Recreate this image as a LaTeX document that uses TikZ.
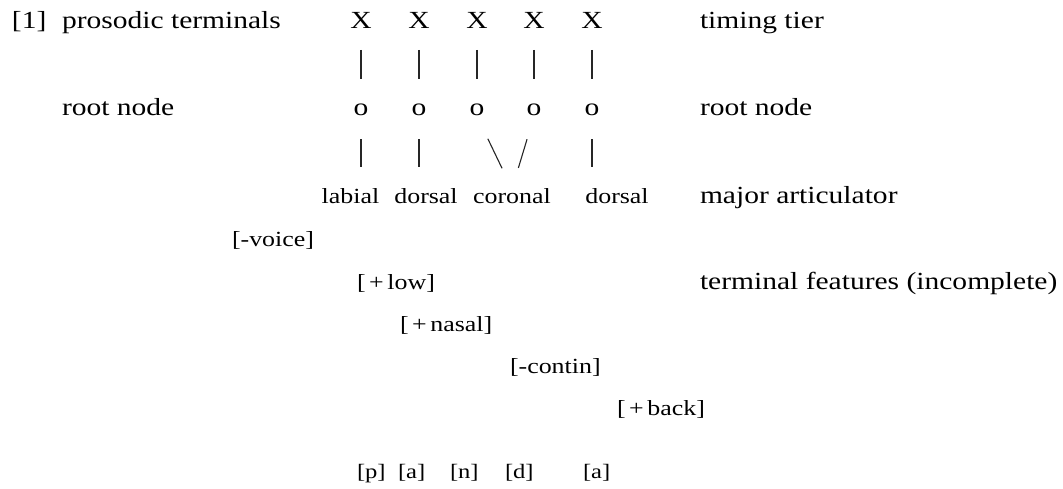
\documentclass[tikz,border=0pt]{standalone}
\usepackage{fontspec}
\setmainfont{Liberation Serif}[FakeStretch=1.2]
\begin{document}
\begin{tikzpicture}[x=1pt,y=1pt,
  txt/.style={inner sep=0pt, outer sep=0pt, anchor=base, font=\fontsize{24.6}{28}\selectfont},
  lbl/.style={txt, anchor=base west},
  sm/.style={inner sep=0pt, outer sep=0pt, anchor=base, font=\fontsize{21.6}{26}\selectfont},
  feat/.style={sm, anchor=base west},
  seg/.style={inner sep=0pt, outer sep=0pt, anchor=base west, font=\fontsize{20.5}{24}\selectfont},
  bar/.style={line width=1.1pt, black!85}]
\useasboundingbox (0,0) rectangle (1063,489);
% left and right labels
\node[lbl] (num) at (12,460) {[1]};
\node[lbl] (pros) at (62,460) {prosodic terminals};
\node[lbl] (rootL) at (62,373) {root node};
\node[lbl] (timing) at (700,460) {timing tier};
\node[lbl] (rootR) at (700,373) {root node};
\node[lbl] (major) at (700,285) {major articulator};
\node[lbl] (term) at (700,199) {terminal features (incomplete)};
% timing tier and root nodes
\foreach \i/\x in {1/361,2/419,3/477,4/534,5/592}{
  \node[txt] (X\i) at (\x,460) {X};
  \node[txt] (o\i) at (\x,373) {o};
  \draw[bar, shorten <=21pt, shorten >=25.5pt] (X\i.south) -- (o\i.north);
}
% articulators
\node[sm] (lab) at (350.5,285) {labial};
\node[sm] (dorA) at (426,285) {dorsal};
\node[sm] (cor) at (512,285) {coronal};
\node[sm] (dorB) at (617,285) {dorsal};
\draw[bar, shorten <=23pt, shorten >=22pt] (o1.south) -- (o1.south |- lab.north);
\draw[bar, shorten <=23pt, shorten >=22pt] (o2.south) -- (o2.south |- dorA.north);
\draw[bar, shorten <=23pt, shorten >=22pt] (o5.south) -- (o5.south |- dorB.north);
\draw[bar, shorten <=25pt, shorten >=23pt] (o3.south) -- (cor.north);
\draw[bar, shorten <=24pt, shorten >=22pt] (o4.south) -- (cor.north);
% features
\node[feat] (voice) at (232,242) {[-voice]};
\node[feat] (low) at (357,199) {[\,+\,low]};
\node[feat] (nasal) at (400,157) {[\,+\,nasal]};
\node[feat] (contin) at (510,115) {[-contin]};
\node[feat] (back) at (617,73) {[\,+\,back]};
% segments
\node[seg] (sp) at (357,10) {[p]};
\node[seg] (sa) at (398,10) {[a]};
\node[seg] (sn) at (450,10) {[n]};
\node[seg] (sd) at (505,10) {[d]};
\node[seg] (sa2) at (583,10) {[a]};
\end{tikzpicture}
\end{document}
